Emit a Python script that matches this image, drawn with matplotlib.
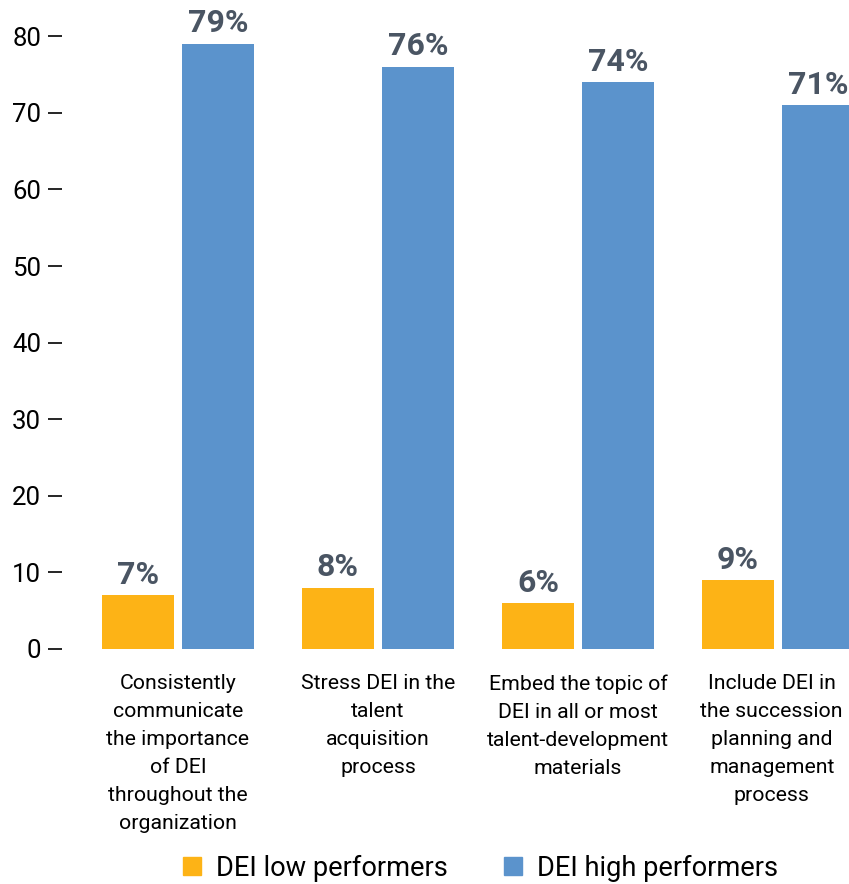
import numpy as np
from matplotlib import pyplot as plt
from matplotlib.patches import Patch

plt.rcParams['font.family'] = ['Roboto', 'DejaVu Sans']

categories = [
    'Consistently\ncommunicate\nthe importance\nof DEI\nthroughout the\norganization',
    'Stress DEI in the\ntalent\nacquisition\nprocess',
    'Embed the topic of\nDEI in all or most\ntalent-development\nmaterials',
    'Include DEI in\nthe succession\nplanning and\nmanagement\nprocess',
]
low = [7, 8, 6, 9]
high = [79, 76, 74, 71]
series_names = ['DEI low performers', 'DEI high performers']
colors = ['#FDB316', '#5B93CC']
label_color = '#4A5563'

fig = plt.figure(figsize=(8.49, 8.84), dpi=100)
ax = fig.add_axes([62 / 849, 1 - 649 / 884, 1 - 62 / 849, 649 / 884])

x = np.arange(len(categories))
w = 0.36
b1 = ax.bar(x - 0.2, low, w, color=colors[0])
b2 = ax.bar(x + 0.2, high, w, color=colors[1])

for bars in (b1, b2):
    for r in bars:
        ax.text(r.get_x() + r.get_width() / 2, r.get_height() + 0.7,
                '%d%%' % r.get_height(), ha='center', va='bottom',
                fontsize=23, fontweight='bold', color=label_color)

ax.set_xlim(-0.58, 3.355)
ax.set_ylim(0, 649 / 7.66)
ax.set_yticks(range(0, 81, 10))
ax.tick_params(axis='y', length=10, width=1.2, pad=5, labelsize=18.5)
ax.set_xticks([])

# category labels under each group; the last one sits a bit left of centre
shifts = [0, 0, 0, -4.5]
for xi, lab, dx in zip(x, categories, shifts):
    ax.annotate(lab, xy=(xi, 0), xytext=(dx, -18), textcoords='offset points',
                ha='center', va='top', fontsize=15.3, linespacing=1.6,
                annotation_clip=False)

for s in ax.spines.values():
    s.set_visible(False)

handles = [Patch(color=c) for c in colors]
fig.legend(handles, series_names, loc='center', bbox_to_anchor=(0.566, 0.018),
           ncol=2, frameon=False, fontsize=19.6, handlelength=0.65, handleheight=0.65,
           handletextpad=0.55, columnspacing=2.1)

fig.savefig('out.png')
